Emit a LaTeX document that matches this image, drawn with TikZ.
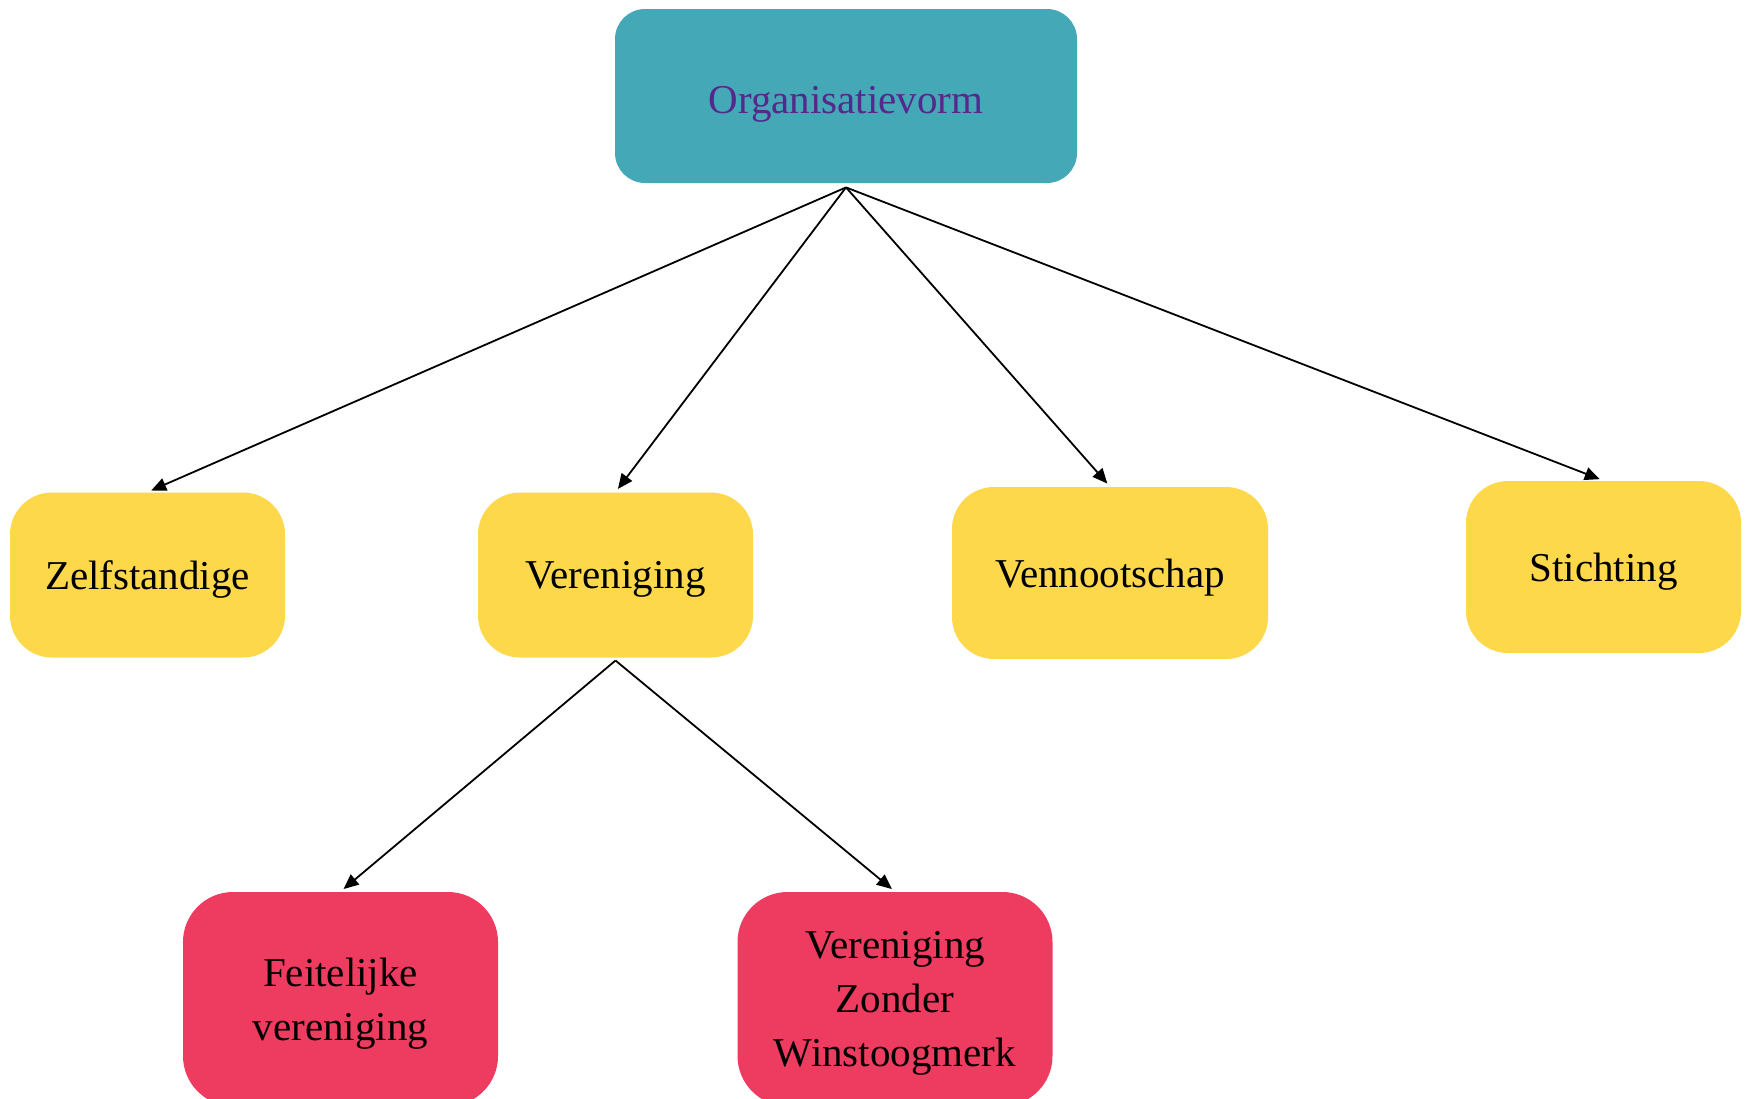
\documentclass[tikz,border=0pt]{standalone}
\usepackage{fontspec}
\setmainfont{Liberation Serif}
\usetikzlibrary{arrows.meta}
\usepackage{xcolor}
\definecolor{orgteal}{RGB}{68,168,183}
\definecolor{orgpurple}{RGB}{85,40,140}
\definecolor{boxyellow}{RGB}{253,216,75}
\definecolor{boxred}{RGB}{238,59,96}

\begin{document}
\begin{tikzpicture}[x=.5pt,y=-.5pt,
  box/.style={inner sep=0, align=center, text depth=0pt, font=\fontsize{20.5}{26.8}\selectfont},
  pijl/.style={black, line width=.9pt, -{Triangle[length=7.5pt,width=6.5pt]}, shorten >=2pt}]
\useasboundingbox (0,0) rectangle (1748,1098);
\node[box, fill=orgteal, text=orgpurple, text height=17.5pt, rounded corners=15pt, minimum width=231pt, minimum height=87pt] (org) at (846,96) {Organisatievorm};
\coordinate (orgvoet) at ([yshift=-2pt]org.south);
\foreach \name/\x/\y/\w/\h/\txt in {zelf/147.5/575/137.5pt/82.5pt/Zelfstandige, ver/615.5/575/137.5pt/82.5pt/Vereniging, venn/1110/573/158pt/86pt/Vennootschap, sticht/1603.5/567/137.5pt/86pt/Stichting} {
 \node[box, fill=boxyellow, rounded corners=21pt, minimum width=\w, minimum height=\h] (\name) at (\x,\y) {\txt};
 \draw[pijl] (orgvoet) -- (\name.north);
}
\coordinate (vervoet) at ([yshift=-1.3pt]ver.south);
\foreach \name/\x/\w/\txt in {feit/340.5/157.5pt/{Feitelijke\\vereniging}, vzw/895/157.5pt/{Vereniging\\Zonder\\Winstoogmerk}} {
 \node[box, fill=boxred, rounded corners=25pt, minimum width=\w, minimum height=107pt] (\name) at (\x,999) {\txt};
 \draw[pijl] (vervoet) -- (\name.north);
}
\end{tikzpicture}
\end{document}
